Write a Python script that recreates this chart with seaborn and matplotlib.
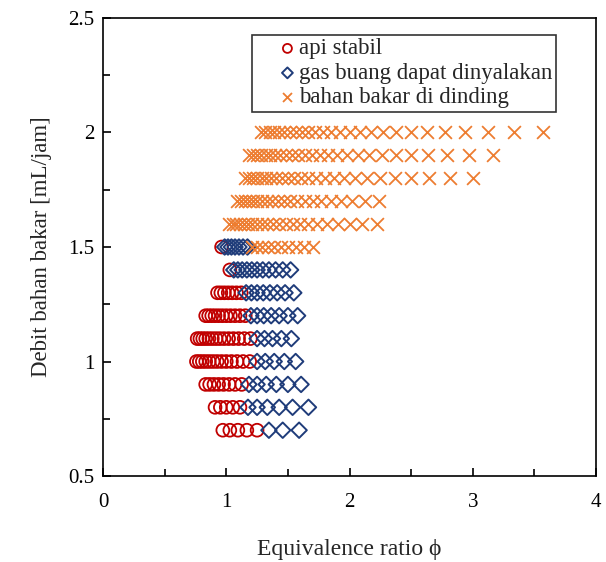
import pandas as pd
import matplotlib
matplotlib.use("Agg")
import matplotlib.pyplot as plt
import seaborn as sns
from matplotlib.collections import PathCollection
from matplotlib.legend_handler import HandlerPathCollection

# === data: (fuel rate, equivalence ratios) per state ===
rate_stable = [1.5, 1.4, 1.3, 1.2, 1.1, 1.0, 0.9, 0.8, 0.7]
phi_stable = [
    [0.962],
    [1.029],
    [0.929, 0.956, 0.985, 1.016, 1.048, 1.083, 1.121],
    [0.833, 0.857, 0.882, 0.909, 0.938, 0.968, 1.000, 1.034, 1.071, 1.111, 1.154],
    [0.764, 0.786, 0.809, 0.833, 0.859, 0.887, 0.917, 0.948, 0.982, 1.019, 1.058, 1.100, 1.146, 1.196],
    [0.758, 0.781, 0.806, 0.833, 0.862, 0.893, 0.926, 0.962, 1.000, 1.042, 1.087, 1.136, 1.190],
    [0.833, 0.865, 0.900, 0.938, 0.978, 1.023, 1.071, 1.125],
    [0.909, 0.952, 1.000, 1.053, 1.111],
    [0.972, 1.029, 1.094, 1.167, 1.250],
]

rate_exhaust = [1.5, 1.4, 1.3, 1.2, 1.1, 1.0, 0.9, 0.8, 0.7]
phi_exhaust = [
    [0.987, 1.014, 1.042, 1.071, 1.103, 1.136, 1.172],
    [1.061, 1.094, 1.129, 1.167, 1.207, 1.250, 1.296, 1.346, 1.400, 1.458, 1.522],
    [1.161, 1.204, 1.250, 1.300, 1.354, 1.413, 1.477, 1.548],
    [1.200, 1.250, 1.304, 1.364, 1.429, 1.500, 1.579],
    [1.250, 1.310, 1.375, 1.447, 1.528],
    [1.250, 1.316, 1.389, 1.471, 1.563],
    [1.184, 1.250, 1.324, 1.406, 1.500, 1.607],
    [1.176, 1.250, 1.333, 1.429, 1.538, 1.667],
    [1.346, 1.458, 1.591],
]

rate_wall = [2.0, 1.9, 1.8, 1.7, 1.6, 1.5]
phi_wall = [
    [1.282, 1.316, 1.351, 1.389, 1.429, 1.471, 1.515, 1.563, 1.613, 1.667, 1.724, 1.786, 1.852,
     1.923, 2.000, 2.083, 2.174, 2.273, 2.381, 2.500, 2.632, 2.778, 2.941, 3.125, 3.333, 3.571],
    [1.188, 1.218, 1.250, 1.284, 1.319, 1.357, 1.397, 1.439, 1.484, 1.532, 1.583, 1.638, 1.696,
     1.759, 1.827, 1.900, 1.979, 2.065, 2.159, 2.262, 2.375, 2.500, 2.639, 2.794, 2.969, 3.167],
    [1.154, 1.184, 1.216, 1.250, 1.286, 1.324, 1.364, 1.406, 1.452, 1.500, 1.552, 1.607, 1.667,
     1.731, 1.800, 1.875, 1.957, 2.045, 2.143, 2.250, 2.368, 2.500, 2.647, 2.813, 3.000],
    [1.090, 1.118, 1.149, 1.181, 1.214, 1.250, 1.288, 1.328, 1.371, 1.417, 1.466, 1.518, 1.574,
     1.635, 1.700, 1.771, 1.848, 1.932, 2.024, 2.125, 2.237],
    [1.026, 1.053, 1.081, 1.111, 1.143, 1.176, 1.212, 1.250, 1.290, 1.333, 1.379, 1.429, 1.481,
     1.538, 1.600, 1.667, 1.739, 1.818, 1.905, 2.000, 2.105, 2.222],
    [1.210, 1.250, 1.293, 1.339, 1.389, 1.442, 1.500, 1.563, 1.630, 1.705],
]

labels = ["api stabil", "gas buang dapat dinyalakan", "bahan bakar di dinding"]
colors = ["#C00000", "#1F3C7A", "#ED7D31"]


def to_frame(rates, phis):
    rows = []
    for r, ps in zip(rates, phis):
        for p in ps:
            rows.append({"phi": p, "rate": r})
    return pd.DataFrame(rows)


df_stable = to_frame(rate_stable, phi_stable)
df_exhaust = to_frame(rate_exhaust, phi_exhaust)
df_wall = to_frame(rate_wall, phi_wall)

# === style ===
sns.set_style("ticks")
plt.rcParams["font.family"] = ["Liberation Serif", "DejaVu Serif"]

fig = plt.figure(figsize=(6.06, 5.62), dpi=100)
ax = fig.add_axes([0.170, 0.153, 0.8135, 0.815])

sns.scatterplot(data=df_stable, x="phi", y="rate", ax=ax, marker="o", s=85,
                facecolor="none", edgecolor=colors[0], linewidth=1.3, label=labels[0])
sns.scatterplot(data=df_exhaust, x="phi", y="rate", ax=ax, marker="D", s=62,
                facecolor="none", edgecolor=colors[1], linewidth=1.4, label=labels[1])
sns.scatterplot(data=df_wall, x="phi", y="rate", ax=ax, marker="x", s=85,
                color=colors[2], linewidth=1.3, label=labels[2])

ax.set_xlim(0, 4)
ax.set_ylim(0.5, 2.5)
ax.set_xticks([0, 1, 2, 3, 4])
ax.set_xticklabels(["0", "1", "2", "3", "4"])
ax.set_xticks([0.5, 1.5, 2.5, 3.5], minor=True)
ax.set_yticks([0.5, 1, 1.5, 2, 2.5])
ax.set_yticklabels(["0.5", "1", "1.5", "2", "2.5"])
ax.set_yticks([0.75, 1.25, 1.75, 2.25], minor=True)
ax.tick_params(which="both", direction="in", labelsize=15, width=1.2, colors="black")
ax.tick_params(which="major", length=6)
ax.tick_params(which="minor", length=5)
ax.tick_params(axis="x", which="major", pad=12)
ax.tick_params(axis="y", which="major", pad=6)
for sp in ax.spines.values():
    sp.set_linewidth(1.2)
    sp.set_color("black")

ax.set_xlabel("Equivalence ratio ϕ", fontsize=17, labelpad=20)
ax.set_ylabel("Debit bahan bakar [mL/jam]", fontsize=16.5, labelpad=12)

leg = ax.legend(loc="upper left", bbox_to_anchor=(0.302, 0.963), frameon=True,
                fancybox=False, edgecolor="black", fontsize=16.5, markerscale=0.7,
                handlelength=1.7, handletextpad=0.2, labelspacing=0.15,
                borderpad=0.15, borderaxespad=0,
                handler_map={PathCollection: HandlerPathCollection(xpad=1.1)})
leg.get_frame().set_linewidth(1.2)

fig.savefig("out.png", dpi=100)
